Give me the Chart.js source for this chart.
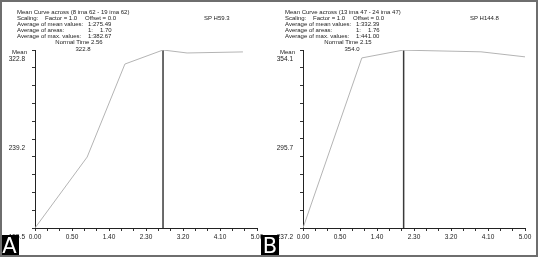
<!DOCTYPE html>
<html>
<head>
<meta charset="utf-8">
<script src="https://cdn.jsdelivr.net/npm/chart.js@4.4.1/dist/chart.umd.min.js"></script>
<style>
  html, body { margin: 0; padding: 0; background: #fff; }
  #wrap { position: relative; width: 538px; height: 257px; overflow: hidden; }
  #frame { position: absolute; left: 0; top: 0; width: 534px; height: 253px; border: 2px solid #6e6e6e; pointer-events: none; }
  canvas { position: absolute; top: 0; }
  #cA { left: 0; }
  #cB { left: 268px; }
  .t { position: absolute; font: 6px "Liberation Sans", Arial, sans-serif; line-height: 6px; color: #222; white-space: pre; }
  .c { transform: translateX(-50%); }
  .tag { position: absolute; top: 235px; height: 22px; background: #000; color: #fff; font: 21px "DejaVu Sans", sans-serif; line-height: 22px; text-align: center; }
</style>
</head>
<body>
<div id="wrap">
  <canvas id="cA" width="268" height="257"></canvas>
  <canvas id="cB" width="270" height="257"></canvas>

  <div class="t" style="left:17px;top:9px">Mean Curve across (8 ima 62 - 19 ima 62)</div>
  <div class="t" style="left:17px;top:15px">Scaling:</div>
  <div class="t" style="left:45px;top:15px">Factor = 1.0</div>
  <div class="t" style="left:85px;top:15px">Offset = 0.0</div>
  <div class="t" style="left:17px;top:21px">Average of mean values:</div>
  <div class="t" style="left:88px;top:21px">1:275.49</div>
  <div class="t" style="left:17px;top:27px">Average of areas:</div>
  <div class="t" style="left:88px;top:27px">1:</div>
  <div class="t" style="left:100px;top:27px">1.70</div>
  <div class="t" style="left:17px;top:33px">Average of max. values:</div>
  <div class="t" style="left:88px;top:33px">1:382.67</div>
  <div class="t" style="left:204px;top:15px">SP H59.3</div>
  <div class="t c" style="left:79px;top:39px">Normal Time 2.56</div>
  <div class="t c" style="left:83px;top:46px">322.8</div>
  <div class="t" style="left:12px;top:49px">Mean</div>

  <div class="t" style="left:285px;top:9px">Mean Curve across (13 ima 47 - 24 ima 47)</div>
  <div class="t" style="left:285px;top:15px">Scaling:</div>
  <div class="t" style="left:313px;top:15px">Factor = 1.0</div>
  <div class="t" style="left:353px;top:15px">Offset = 0.0</div>
  <div class="t" style="left:285px;top:21px">Average of mean values:</div>
  <div class="t" style="left:356px;top:21px">1:332.39</div>
  <div class="t" style="left:285px;top:27px">Average of areas:</div>
  <div class="t" style="left:356px;top:27px">1:</div>
  <div class="t" style="left:368px;top:27px">1.76</div>
  <div class="t" style="left:285px;top:33px">Average of max. values:</div>
  <div class="t" style="left:356px;top:33px">1:441.00</div>
  <div class="t" style="left:470px;top:15px">SP H144.8</div>
  <div class="t c" style="left:348px;top:39px">Normal Time 2.15</div>
  <div class="t c" style="left:352px;top:46px">354.0</div>
  <div class="t" style="left:280px;top:49px">Mean</div>

  <div class="tag" style="left:0;width:19px">A</div>
  <div class="tag" style="left:261px;width:18px">B</div>
  <div id="frame"></div>
</div>

<script>
// x axis labels (evenly spaced on the device printout)
const xTickLabels = ["0.00", "0.50", "1.40", "2.30", "3.20", "4.10", "5.00"];

// panel A - mean curve, x in label-step units
const meanAx = [0, 1.41, 2.43, 3.46, 4.11, 5.62];
const meanAy = [155.5, 222.2, 309.6, 322.8, 320.0, 321.0];
const normalAx = 3.46;
const yTickLabelsA = [155.5, 239.2, 322.8];

// panel B
const meanBx = [0, 1.59, 2.70, 4.81, 6.0];
const meanBy = [237.2, 348.9, 354.0, 352.9, 349.6];
const normalBx = 2.72;
const yTickLabelsB = [237.2, 295.7, 354.1];

const tickFont = { size: 6.5, family: "Liberation Sans" };

function makePanel(id, xs, ys, normalX, yLabels, padRight) {
    const yMin = yLabels[0];
    const yMax = yLabels[yLabels.length - 1];
    const xMax = xTickLabels.length - 1;
    return new Chart(id, {
        type: "line",
        data: {
            datasets: [
                {
                    label: "Mean",
                    data: xs.map((x, i) => ({ x: x, y: ys[i] })),
                    borderColor: "#b4b4b4",
                    borderWidth: 1,
                    pointRadius: 0,
                    tension: 0
                },
                {
                    label: "Normal Time",
                    data: [{ x: normalX, y: yMin }, { x: normalX, y: Math.max(...ys) }],
                    borderColor: "#3a3a3a",
                    borderWidth: 1.5,
                    pointRadius: 0
                }
            ]
        },
        options: {
            responsive: false,
            animation: false,
            devicePixelRatio: 1,
            layout: { padding: { top: 50, right: padRight, bottom: 9, left: 0 } },
            plugins: { legend: { display: false }, tooltip: { enabled: false } },
            scales: {
                x: {
                    type: "linear",
                    min: 0,
                    max: xMax,
                    afterBuildTicks: s => {
                        s.ticks = [];
                        for (let i = 0; i <= xMax * 3; i++) s.ticks.push({ value: i / 3 });
                    },
                    afterFit: s => { s.height = 20; },
                    border: { color: "#222", width: 1 },
                    grid: { drawOnChartArea: false, tickLength: 3, color: "#333" },
                    ticks: {
                        autoSkip: false,
                        maxRotation: 0,
                        padding: 2,
                        color: "#222",
                        font: tickFont,
                        callback: v => {
                            const k = Math.round(v * 3);
                            return k % 3 === 0 ? xTickLabels[k / 3] : "";
                        }
                    }
                },
                y: {
                    type: "linear",
                    min: yMin,
                    max: yMax,
                    afterBuildTicks: s => {
                        s.ticks = [];
                        for (let i = 0; i <= 10; i++) s.ticks.push({ value: yMin + (yMax - yMin) * i / 10 });
                    },
                    afterFit: s => { s.width = 35; },
                    border: { color: "#222", width: 1 },
                    grid: { drawOnChartArea: false, tickLength: 3, color: "#333" },
                    ticks: {
                        autoSkip: false,
                        padding: 7,
                        labelOffset: 9,
                        color: "#222",
                        font: tickFont,
                        callback: (v, i) => (i % 5 === 0 ? yLabels[i / 5].toFixed(1) : "")
                    }
                }
            }
        }
    });
}

makePanel("cA", meanAx, meanAy, normalAx, yTickLabelsA, 11);
makePanel("cB", meanBx, meanBy, normalBx, yTickLabelsB, 13);
</script>
</body>
</html>
